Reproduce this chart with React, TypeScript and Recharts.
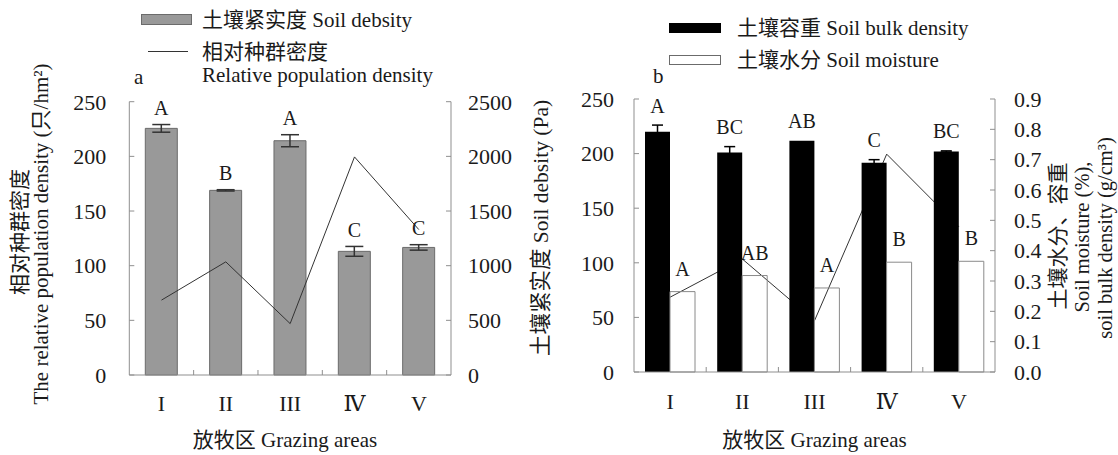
import React from "react"
import { ComposedChart, Bar, Line, XAxis, YAxis, ErrorBar, LabelList } from "recharts"

const FONT = '"Liberation Serif", "DejaVu Serif", "Noto Sans CJK SC", serif'
const TEXT = "#1a1a1a"
const AXIS = "#8f8f8f"

// grazing areas
const categories = ["I", "II", "III", "Ⅳ", "V"]

// panel a
const soilCompaction = [2256, 1689, 2143, 1131, 1167]
const soilCompactionErr = [35, 6, 55, 45, 25]
const compactionLetters = ["A", "B", "A", "C", "C"]
const populationDensity = [68.5, 103.5, 47, 199.5, 133]

// panel b
const bulkDensity = [0.792, 0.724, 0.762, 0.69, 0.727]
const bulkDensityErr = [0.022, 0.019, 0, 0.01, 0.002]
const bulkLetters = ["A", "BC", "AB", "C", "BC"]
const soilMoisture = [0.265, 0.318, 0.277, 0.362, 0.365]
const moistureLetters = ["A", "AB", "A", "B", "B"]

// tick labels
const densityTicks = [0, 50, 100, 150, 200, 250]
const compactionTicks = [0, 500, 1000, 1500, 2000, 2500]
const ratioTicks = [0, 0.1, 0.2, 0.3, 0.4, 0.5, 0.6, 0.7, 0.8, 0.9]

const leftData = categories.map((area, i) => ({
  area,
  compaction: soilCompaction[i],
  compactionErr: soilCompactionErr[i],
  density: populationDensity[i],
  letter: compactionLetters[i],
}))

const rightData = categories.map((area, i) => ({
  area,
  bulk: bulkDensity[i],
  bulkErr: bulkDensityErr[i],
  moisture: soilMoisture[i],
  density: populationDensity[i],
  bulkLetter: bulkLetters[i],
  moistLetter: moistureLetters[i],
}))

const tickStyle = { fontSize: 22, fill: TEXT, fontFamily: FONT }

// category label in the middle, small inward tick on the boundary to the right
const categoryTick = (band: number, margin: number) => (props: any) => {
  const { x, y, payload, index } = props
  const bx = x + band / 2
  const base = y - margin
  return (
    <g>
      {index < categories.length - 1 && <line x1={bx} x2={bx} y1={base} y2={base - 5} stroke={AXIS} />}
      <text x={x} y={y} dy="0.71em" textAnchor="middle" fontSize={22} fill={TEXT} fontFamily={FONT}>
        {payload.value}
      </text>
    </g>
  )
}

const letterLabel = (values: number[], errs: number[], gap: number) => (props: any) => {
  const { x, y, width, height, value, index } = props
  const errPx = values[index] ? (height * errs[index]) / values[index] : 0
  return (
    <text x={x + width / 2} y={y - errPx - gap} textAnchor="middle" fontSize={20} fill={TEXT} fontFamily={FONT}>
      {value}
    </text>
  )
}

const vText = (x: number, cy: number, s: string, size = 21) => (
  <text
    x={x}
    y={cy}
    transform={`rotate(-90 ${x} ${cy})`}
    textAnchor="middle"
    dominantBaseline="central"
    fontSize={size}
    fill={TEXT}
    fontFamily={FONT}
  >
    {s}
  </text>
)

const xTitle = (cx: number) => () => (
  <text x={cx} y={440} textAnchor="middle" dominantBaseline="central" fontSize={21} fill={TEXT} fontFamily={FONT}>
    放牧区 Grazing areas
  </text>
)

function LegendText({ left, cy, children }: { left: number; cy: number; children: React.ReactNode }) {
  return (
    <div
      style={{
        position: "absolute",
        left,
        top: cy - 12,
        height: 24,
        lineHeight: "24px",
        fontSize: 21,
        whiteSpace: "nowrap",
        color: TEXT,
      }}
    >
      {children}
    </div>
  )
}

function PanelA() {
  return (
    <ComposedChart width={560} height={455} data={leftData} margin={{ top: 101.7, right: 0, bottom: 50, left: 0 }}>
      <XAxis
        dataKey="area"
        height={30}
        stroke={AXIS}
        tickLine={false}
        tickSize={0}
        tickMargin={20}
        interval={0}
        tick={categoryTick(64.34, 20)}
        label={{ content: xTitle(285) }}
      />
      <YAxis
        yAxisId="pop"
        orientation="left"
        width={129.3}
        domain={[0, 250]}
        ticks={densityTicks}
        interval={0}
        stroke={AXIS}
        tickSize={-5}
        tickMargin={28}
        tick={tickStyle}
        label={{
          content: () => (
            <g>
              {vText(20, 232, "相对种群密度")}
              {vText(41, 234, "The relative population density (只/hm²)")}
            </g>
          ),
        }}
      />
      <YAxis
        yAxisId="soil"
        orientation="right"
        width={109}
        domain={[0, 2500]}
        ticks={compactionTicks}
        interval={0}
        stroke={AXIS}
        tickSize={-5}
        tickMargin={22}
        tick={tickStyle}
        label={{ content: () => vText(541, 228, "土壤紧实度 Soil debsity (Pa)", 21.5) }}
      />
      <Bar yAxisId="soil" dataKey="compaction" barSize={32} fill="#999999" stroke="#6b6b6b" isAnimationActive={false}>
        <ErrorBar dataKey="compactionErr" width={9} stroke="#333" direction="y" isAnimationActive={false} />
        <LabelList dataKey="letter" content={letterLabel(soilCompaction, soilCompactionErr, 9.5)} />
      </Bar>
      <Line
        yAxisId="pop"
        dataKey="density"
        type="linear"
        stroke="#333"
        strokeWidth={1}
        dot={false}
        activeDot={false}
        isAnimationActive={false}
      />
    </ComposedChart>
  )
}

function PanelB() {
  return (
    <ComposedChart
      width={558}
      height={455}
      data={rightData}
      barGap={0}
      margin={{ top: 99, right: 0, bottom: 53, left: 0 }}
    >
      <XAxis
        dataKey="area"
        height={30}
        stroke={AXIS}
        tickLine={false}
        tickSize={0}
        tickMargin={21}
        interval={0}
        tick={categoryTick(72.2, 21)}
        label={{ content: xTitle(254.5) }}
      />
      <YAxis
        yAxisId="pop"
        orientation="left"
        width={74}
        domain={[0, 250]}
        ticks={densityTicks}
        interval={0}
        stroke={AXIS}
        tickSize={-5}
        tickMargin={25}
        tick={tickStyle}
      />
      <YAxis
        yAxisId="ratio"
        orientation="right"
        width={123}
        domain={[0, 0.9]}
        ticks={ratioTicks}
        interval={0}
        tickFormatter={(v: number) => v.toFixed(1)}
        stroke={AXIS}
        tickSize={-5}
        tickMargin={24}
        tick={tickStyle}
        label={{
          content: () => (
            <g>
              {vText(498, 236, "土壤水分、容重")}
              {vText(522, 237, "Soil moisture (%),", 20.5)}
              {vText(545, 238, "soil bulk density (g/cm³)", 20.5)}
            </g>
          ),
        }}
      />
      <Line
        yAxisId="pop"
        dataKey="density"
        type="linear"
        stroke="#333"
        strokeWidth={1}
        dot={false}
        activeDot={false}
        zIndex={250}
        isAnimationActive={false}
      />
      <Bar yAxisId="ratio" dataKey="bulk" barSize={25} fill="#000" isAnimationActive={false}>
        <ErrorBar dataKey="bulkErr" width={5.5} stroke="#000" direction="y" isAnimationActive={false} />
        <LabelList dataKey="bulkLetter" content={letterLabel(bulkDensity, bulkDensityErr, 12.4)} />
      </Bar>
      <Bar yAxisId="ratio" dataKey="moisture" barSize={25} fill="none" stroke="#8a8a8a" isAnimationActive={false}>
        <LabelList dataKey="moistLetter" content={letterLabel(soilMoisture, [0, 0, 0, 0, 0], 16)} />
      </Bar>
    </ComposedChart>
  )
}

export default function App() {
  return (
    <div
      style={{
        position: "absolute",
        left: 0,
        top: 0,
        width: 1118,
        height: 455,
        background: "#fff",
        fontFamily: FONT,
        overflow: "hidden",
      }}
    >
      <div style={{ position: "absolute", left: 0, top: 0 }}>
        <PanelA />
      </div>
      <div style={{ position: "absolute", left: 560, top: 0 }}>
        <PanelB />
      </div>

      {/* panel a legend */}
      <div style={{ position: "absolute", left: 141, top: 14, width: 49, height: 9, background: "#999", border: "1px solid #6b6b6b" }} />
      <LegendText left={202} cy={20}>土壤紧实度 Soil debsity</LegendText>
      <div style={{ position: "absolute", left: 148, top: 51, width: 40, height: 1, background: "#333" }} />
      <LegendText left={202} cy={52}>相对种群密度</LegendText>
      <LegendText left={202} cy={75}>Relative population density</LegendText>
      <LegendText left={134} cy={77}>a</LegendText>

      {/* panel b legend */}
      <div style={{ position: "absolute", left: 669, top: 23, width: 52, height: 10, background: "#000" }} />
      <LegendText left={737} cy={28}>土壤容重 Soil bulk density</LegendText>
      <div style={{ position: "absolute", left: 669, top: 55, width: 50, height: 8, background: "#fff", border: "1px solid #6b6b6b" }} />
      <LegendText left={737} cy={60}>土壤水分 Soil moisture</LegendText>
      <LegendText left={653} cy={76}>b</LegendText>
    </div>
  )
}
